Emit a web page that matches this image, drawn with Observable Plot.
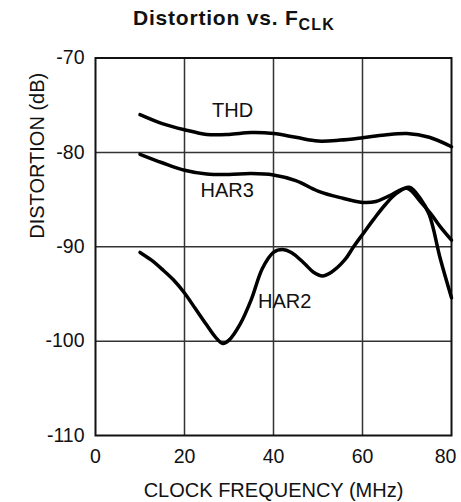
<!DOCTYPE html>
<html>
<head>
<meta charset="utf-8">
<script src="https://cdn.jsdelivr.net/npm/d3@7"></script>
<script src="https://cdn.jsdelivr.net/npm/@observablehq/plot@0.6"></script>
<style>
  body { margin: 0; background: white; }
  #title { position: relative; width: 461px; height: 40px; font-family: "Liberation Sans", Arial, sans-serif; }
  #title div { position: absolute; left: 0; top: 6px; width: 461px; text-align: center; padding-left: 7px; box-sizing: border-box;
    font-weight: bold; font-size: 21px; letter-spacing: 0.8px; color: #111; white-space: nowrap; }
  #title sub { font-size: 16px; vertical-align: -5px; letter-spacing: 1.2px; }
</style>
</head>
<body>
<div id="title"><div>Distortion vs. F<sub>CLK</sub></div></div>
<div id="chart"></div>
<script>
const titleText = "Distortion vs. F";
const titleSub = "CLK";
const xLabel = "CLOCK FREQUENCY (MHz)";
const yLabel = "DISTORTION (dB)";
const xTicks = [0, 20, 40, 60];
const xTickLast = [80];
const yTicks = [-70, -80, -90, -100, -110];
const xGrid = [20, 40, 60];
const yGrid = [-80, -90, -100];

const thdF  = [10, 15, 20, 25, 30, 35, 40, 45, 50, 55, 60, 65, 70, 75, 80];
const thdDb = [-76.0, -76.95, -77.6, -78.1, -78.1, -77.9, -78.0, -78.4, -78.8, -78.7, -78.45, -78.15, -78.0, -78.4, -79.4];

const har3F  = [10, 15, 20, 25, 30, 35, 40, 45, 50, 55, 60, 63, 66, 70, 73, 75.5, 77.5, 80];
const har3Db = [-80.2, -81.1, -81.9, -82.3, -82.35, -82.25, -82.4, -83.0, -84.1, -84.8, -85.3, -85.2, -84.6, -83.8, -85.2, -86.6, -87.9, -89.3];

const har2F  = [10, 12.5, 15, 17.5, 20, 22.5, 25, 27, 28.6, 30, 32.5, 35, 37.5, 40, 42, 44, 47, 49, 51, 53, 56, 58, 60, 62.5, 65, 67.5, 70.5, 73, 75, 77.5, 80];
const har2Db = [-90.6, -91.4, -92.4, -93.5, -94.9, -96.6, -98.3, -99.6, -100.25, -99.9, -98.2, -95.6, -92.3, -90.6, -90.3, -90.6, -91.8, -92.7, -93.1, -92.7, -91.4, -90.0, -88.7, -87.1, -85.6, -84.4, -83.7, -84.9, -86.6, -91.3, -95.4];

const labelText = ["THD", "HAR3", "HAR2"];
const labelF    = [30.8, 29.6, 42.5];
const labelDb   = [-75.6, -84.0, -95.8];

const rows = [
  ...thdF.map((f, i) => ({series: "THD", f, db: thdDb[i]})),
  ...har3F.map((f, i) => ({series: "HAR3", f, db: har3Db[i]})),
  ...har2F.map((f, i) => ({series: "HAR2", f, db: har2Db[i]}))
];
const labels = labelText.map((t, i) => ({t, f: labelF[i], db: labelDb[i]}));

const chart = Plot.plot({
  width: 461,
  height: 462,
  marginTop: 17.5,
  marginBottom: 67,
  marginLeft: 95,
  marginRight: 10,
  style: {fontFamily: "'Liberation Sans', Arial, sans-serif", fontSize: "20px", color: "#111", background: "white"},
  x: {domain: [0, 80]},
  y: {domain: [-110, -70]},
  marks: [
    Plot.gridX(xGrid, {stroke: "#333", strokeOpacity: 1, strokeWidth: 1.5}),
    Plot.gridY(yGrid, {stroke: "#333", strokeOpacity: 1, strokeWidth: 1.5}),
    Plot.frame({stroke: "#111", strokeWidth: 2}),
    Plot.axisX(xTicks, {tickSize: 0, tickPadding: 14, label: null, tickFormat: d => String(d), fontSize: 19.5}),
    Plot.axisX(xTickLast, {tickSize: 0, tickPadding: 14, label: null, tickFormat: d => String(d), fontSize: 19.5, dx: -6}),
    Plot.axisY(yTicks, {tickSize: 0, tickPadding: 11, label: null, tickFormat: d => String(d), fontSize: 19.5}),
    Plot.line(rows, {x: "f", y: "db", z: "series", stroke: "black", strokeWidth: 3.5, curve: "catmull-rom"}),
    Plot.text(labels, {x: "f", y: "db", text: "t", fontSize: 20, fill: "#111"}),
    Plot.text([xLabel], {frameAnchor: "bottom", dy: 61, lineAnchor: "bottom", text: d => d, fontSize: 20, fill: "#111"}),
    Plot.text([yLabel], {frameAnchor: "left", rotate: -90, dx: -52, dy: -8, lineAnchor: "bottom", text: d => d, fontSize: 20, fill: "#111"})
  ]
});
document.getElementById("chart").appendChild(chart);
</script>
</body>
</html>
